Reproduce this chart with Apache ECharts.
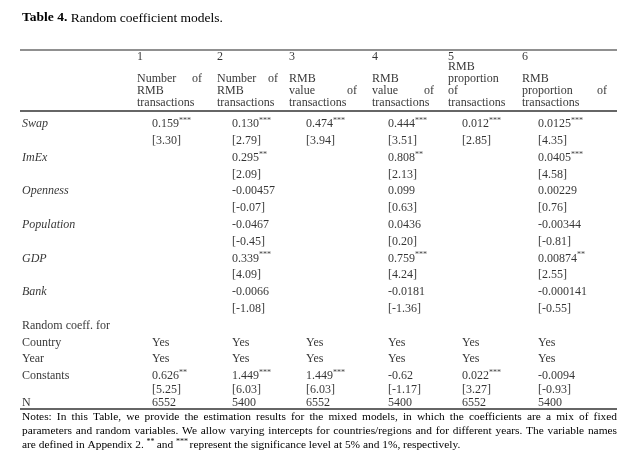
<!DOCTYPE html>
<html>
<head>
<meta charset="utf-8">
<script src="https://cdn.jsdelivr.net/npm/echarts@6/dist/echarts.min.js"></script>
<style>
html,body{margin:0;padding:0;background:#fff;}
#chart{width:640px;height:462px;}
</style>
</head>
<body>
<div id="chart"></div>
<script>
// ---------------- DATA ----------------
const titleBold = 'Table 4.';
const titleText = ' Random coefficient models.';
const modelNumbers = ['1', '2', '3', '4', '5', '6'];
const modelDescriptions = [
  ['Number|of', 'RMB', 'transactions'],
  ['Number|of', 'RMB', 'transactions'],
  ['RMB', 'value|of', 'transactions'],
  ['RMB', 'value|of', 'transactions'],
  ['RMB', 'proportion', 'of', 'transactions'],
  ['RMB', 'proportion|of', 'transactions']
];
const variables = ['Swap', 'ImEx', 'Openness', 'Population', 'GDP', 'Bank'];
const swapCoef = ['0.159***', '0.130***', '0.474***', '0.444***', '0.012***', '0.0125***'];
const swapT = ['[3.30]', '[2.79]', '[3.94]', '[3.51]', '[2.85]', '[4.35]'];
const imexCoef = ['', '0.295**', '', '0.808**', '', '0.0405***'];
const imexT = ['', '[2.09]', '', '[2.13]', '', '[4.58]'];
const opennessCoef = ['', '-0.00457', '', '0.099', '', '0.00229'];
const opennessT = ['', '[-0.07]', '', '[0.63]', '', '[0.76]'];
const populationCoef = ['', '-0.0467', '', '0.0436', '', '-0.00344'];
const populationT = ['', '[-0.45]', '', '[0.20]', '', '[-0.81]'];
const gdpCoef = ['', '0.339***', '', '0.759***', '', '0.00874**'];
const gdpT = ['', '[4.09]', '', '[4.24]', '', '[2.55]'];
const bankCoef = ['', '-0.0066', '', '-0.0181', '', '-0.000141'];
const bankT = ['', '[-1.08]', '', '[-1.36]', '', '[-0.55]'];
const randomHeader = 'Random coeff. for';
const countryRE = ['Yes', 'Yes', 'Yes', 'Yes', 'Yes', 'Yes'];
const yearRE = ['Yes', 'Yes', 'Yes', 'Yes', 'Yes', 'Yes'];
const constCoef = ['0.626**', '1.449***', '1.449***', '-0.62', '0.022***', '-0.0094'];
const constT = ['[5.25]', '[6.03]', '[6.03]', '[-1.17]', '[3.27]', '[-0.93]'];
const nObs = ['6552', '5400', '6552', '5400', '6552', '5400'];
const notesLines = [
  'Notes: In this Table, we provide the estimation results for the mixed models, in which the coefficients are a mix of fixed',
  'parameters and random variables. We allow varying intercepts for countries/regions and for different years. The variable names',
  'are defined in Appendix 2. ** and *** represent the significance level at 5% and 1%, respectively.'
];

// ---------------- LAYOUT ----------------
const W = 640, H = 462;
const FONT = '"Liberation Serif", "Times New Roman", serif';
const FS = 12;
const INK = '#000';
const LABEL_X = 22;
const TABLE_L = 20, TABLE_R = 617;
const COL_HEAD_X = [137, 217, 289, 372, 448, 522];
const COL_HEAD_R = [202, 278, 357, 434, 512, 607];
const COL_DATA_X = [152, 232, 306, 388, 462, 538];
const Y_NUM = 57;
const Y_DESC_LAST = 103, DESC_STEP = 12;
const BODY_Y0 = 124, BODY_STEP = 16.8;
const Y_CONST_T = 390, Y_N = 402.5;
const RULE_TOP = 50, RULE_MID = 111, RULE_BOT = 409;
const NOTE_Y0 = 417, NOTE_STEP = 14, NOTE_FS = 11.4;

// ---------------- BUILD CELLS ----------------
const cells = [];
function fmt(str, italic) {
  const m = str.match(/^(.*?)(\*+)$/);
  const base = italic ? 'i' : 'v';
  if (m) return '{' + base + '|' + m[1] + '}{s|' + m[2] + '}';
  return '{' + base + '|' + str + '}';
}
function addCell(x, y, text, opts) {
  if (!text) return;
  opts = opts || {};
  cells.push({
    value: [x, y],
    text: fmt(text, opts.italic),
    label: { position: opts.right ? 'left' : 'right' }
  });
}
modelNumbers.forEach((n, i) => addCell(COL_HEAD_X[i], Y_NUM, n));
modelDescriptions.forEach((lines, i) => {
  const k = lines.length;
  lines.forEach((ln, j) => {
    const y = Y_DESC_LAST - (k - 1 - j) * DESC_STEP;
    const parts = ln.split('|');
    addCell(COL_HEAD_X[i], y, parts[0]);
    if (parts[1]) addCell(COL_HEAD_R[i], y, parts[1], { right: true });
  });
});
const bodyRows = [
  [variables[0], swapCoef, true], [null, swapT],
  [variables[1], imexCoef, true], [null, imexT],
  [variables[2], opennessCoef, true], [null, opennessT],
  [variables[3], populationCoef, true], [null, populationT],
  [variables[4], gdpCoef, true], [null, gdpT],
  [variables[5], bankCoef, true], [null, bankT],
  [randomHeader, null],
  ['Country', countryRE],
  ['Year', yearRE],
  ['Constants', constCoef]
];
bodyRows.forEach((r, idx) => {
  const y = BODY_Y0 + idx * BODY_STEP;
  if (r[0]) addCell(LABEL_X, y, r[0], { italic: !!r[2] });
  if (r[1]) r[1].forEach((v, i) => addCell(COL_DATA_X[i], y, v));
});
constT.forEach((v, i) => addCell(COL_DATA_X[i], Y_CONST_T, v));
addCell(LABEL_X, Y_N, 'N');
nObs.forEach((v, i) => addCell(COL_DATA_X[i], Y_N, v));

// ---------------- GRAPHICS (title, rules, notes) ----------------
const graphics = [];
graphics.push({
  type: 'text', left: LABEL_X, top: 11, silent: true,
  style: {
    text: '{b|' + titleBold + '}{n|' + titleText + '}',
    rich: {
      b: { fontFamily: FONT, fontSize: 13.5, fontWeight: 'bold', fill: INK },
      n: { fontFamily: FONT, fontSize: 13.5, fill: INK }
    }
  }
});
function rule(y, w, c) {
  graphics.push({ type: 'line', silent: true, shape: { x1: TABLE_L, y1: y, x2: TABLE_R, y2: y }, style: { stroke: c, lineWidth: w } });
}
rule(RULE_TOP, 1.2, '#222');
rule(RULE_MID, 2, '#666');
rule(RULE_BOT, 2, '#666');

const ctx = document.createElement('canvas').getContext('2d');
ctx.font = NOTE_FS + 'px ' + FONT;
notesLines.forEach((line, li) => {
  const y = NOTE_Y0 + li * NOTE_STEP;
  const last = li === notesLines.length - 1;
  const words = line.split(' ');
  const starW = w => w.length * 3.6;
  const widths = words.map(w => /^\*+$/.test(w) ? starW(w) : ctx.measureText(w).width);
  const total = widths.reduce((a, b) => a + b, 0);
  const span = TABLE_R - LABEL_X;
  const gap = last ? ctx.measureText(' ').width : (span - total) / (words.length - 1);
  let x = LABEL_X;
  words.forEach((w, wi) => {
    const isStar = /^\*+$/.test(w);
    graphics.push({
      type: 'text', x: x, y: isStar ? y - 3 : y, silent: true,
      style: {
        text: w, fontFamily: FONT, fontSize: isStar ? 8 : NOTE_FS, fill: INK,
        verticalAlign: 'middle', align: 'left'
      }
    });
    x += widths[wi] + gap;
  });
});

// ---------------- CHART ----------------
const chart = echarts.init(document.getElementById('chart'), null, { renderer: 'canvas', width: W, height: H });
chart.setOption({
  animation: false,
  backgroundColor: '#fff',
  grid: { left: 0, right: 0, top: 0, bottom: 0 },
  xAxis: { type: 'value', min: 0, max: W, show: false },
  yAxis: { type: 'value', min: 0, max: H, inverse: true, show: false },
  series: [{
    type: 'scatter',
    silent: true,
    symbolSize: 0.001,
    itemStyle: { color: 'transparent' },
    data: cells,
    label: {
      show: true,
      distance: 0,
      formatter: p => p.data.text,
      rich: {
        v: { fontFamily: FONT, fontSize: FS, color: INK, lineHeight: 14 },
        i: { fontFamily: FONT, fontSize: FS, color: INK, fontStyle: 'italic', lineHeight: 14 },
        s: { fontFamily: FONT, fontSize: 8, color: INK, verticalAlign: 'top', lineHeight: 8 }
      }
    },
    emphasis: { disabled: true }
  }],
  graphic: graphics
});
</script>
</body>
</html>
